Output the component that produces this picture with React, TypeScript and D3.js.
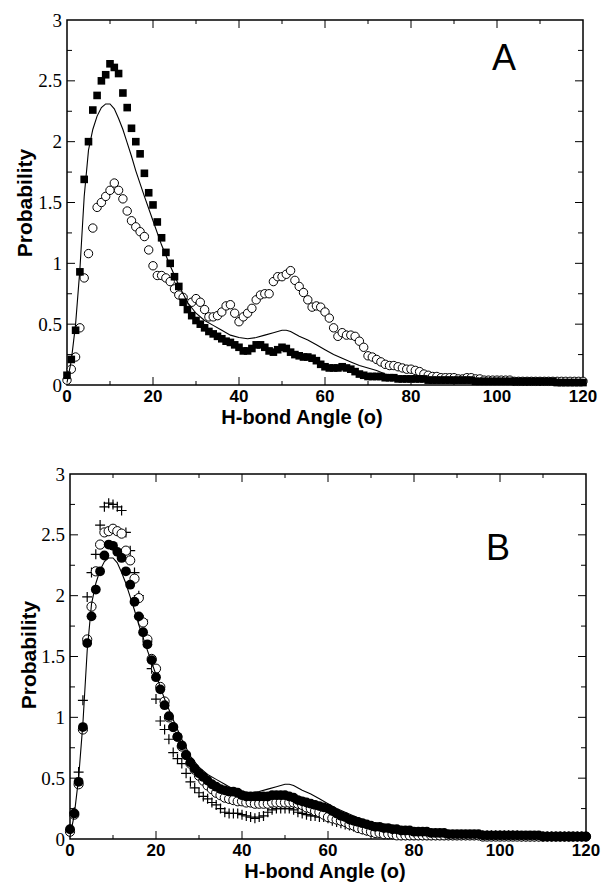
import React from "react";
import * as d3 from "d3";

// H-bond angle bins, 1 degree wide
const angles = d3.range(0, 121);

// Panel A
const squaresA = [
  0.08, 0.21, 0.45, 0.93, 1.69, 2.0, 2.26, 2.38, 2.5, 2.55,
  2.64, 2.61, 2.56, 2.4, 2.28, 2.11, 2.0, 1.9, 1.74, 1.58,
  1.48, 1.34, 1.21, 1.09, 1.0, 0.89, 0.81, 0.68, 0.62, 0.57,
  0.53, 0.5, 0.47, 0.44, 0.42, 0.4, 0.38, 0.36, 0.35, 0.33,
  0.31, 0.28, 0.28, 0.3, 0.33, 0.33, 0.31, 0.28, 0.27, 0.29,
  0.31, 0.3, 0.27, 0.25, 0.24, 0.23, 0.23, 0.22, 0.2, 0.17,
  0.15, 0.14, 0.14, 0.14, 0.15, 0.14, 0.13, 0.11, 0.09, 0.08,
  0.07, 0.07, 0.07, 0.07, 0.06, 0.06, 0.06, 0.05, 0.05, 0.05,
  0.05, 0.05, 0.05, 0.05, 0.04, 0.04, 0.04, 0.04, 0.04, 0.04,
  0.04, 0.04, 0.04, 0.04, 0.04, 0.03, 0.03, 0.03, 0.03, 0.03,
  0.03, 0.03, 0.03, 0.03, 0.03, 0.03, 0.03, 0.03, 0.03, 0.03,
  0.03, 0.03, 0.03, 0.03, 0.02, 0.02, 0.02, 0.02, 0.02, 0.02, 0.02,
];

const circlesA = [
  0.04, 0.13, 0.23, 0.47, 0.88, 1.08, 1.29, 1.46, 1.5, 1.55,
  1.6, 1.66, 1.6, 1.53, 1.43, 1.35, 1.3, 1.26, 1.22, 1.11,
  0.98, 0.9, 0.9, 0.88, 0.85, 0.79, 0.74, 0.72, 0.67, 0.68,
  0.71, 0.68, 0.62, 0.56, 0.56, 0.57, 0.6, 0.65, 0.66, 0.59,
  0.52, 0.56, 0.59, 0.63, 0.7, 0.74, 0.75, 0.75, 0.85, 0.89,
  0.89, 0.91, 0.94, 0.86, 0.81, 0.76, 0.7, 0.64, 0.65, 0.64,
  0.6, 0.55, 0.47, 0.4, 0.43, 0.41, 0.41, 0.4, 0.36, 0.31,
  0.24, 0.23, 0.21, 0.19, 0.17, 0.16, 0.16, 0.15, 0.14, 0.13,
  0.13, 0.12, 0.11, 0.09, 0.08, 0.07, 0.07, 0.06, 0.06, 0.06,
  0.06, 0.05, 0.05, 0.06, 0.06, 0.05, 0.05, 0.04, 0.04, 0.04,
  0.04, 0.04, 0.04, 0.04, 0.03, 0.03, 0.03, 0.03, 0.03, 0.03,
  0.03, 0.03, 0.03, 0.03, 0.03, 0.03, 0.03, 0.03, 0.03, 0.03, 0.03,
];

// model curve (same in both panels)
const modelAngles = [
  0, 1, 2, 3, 4, 5, 6, 7, 8, 9, 10, 11, 12, 13, 14, 15, 16,
  18, 20, 22, 24, 26, 28, 30, 32, 34, 36, 38, 40, 42, 44, 46, 48, 50,
  51, 52, 54, 56, 58, 60, 62, 64, 66, 68, 70, 72, 74, 76, 78, 80,
  85, 90, 100, 110, 120,
];
const modelProb = [
  0.02, 0.2, 0.5, 0.95, 1.55, 1.93, 2.1, 2.21, 2.28, 2.31, 2.31, 2.27, 2.19, 2.1, 1.99, 1.88, 1.76,
  1.55, 1.35, 1.15, 0.98, 0.82, 0.68, 0.59, 0.53, 0.49, 0.45, 0.41, 0.39, 0.38, 0.39, 0.41, 0.43, 0.45,
  0.45, 0.44, 0.4, 0.37, 0.33, 0.29, 0.25, 0.22, 0.19, 0.16, 0.14, 0.12, 0.09, 0.07, 0.06, 0.05,
  0.04, 0.03, 0.03, 0.02, 0.02,
];

// Panel B
const filledB = [
  0.08, 0.21, 0.47, 0.92, 1.61, 1.83, 2.05, 2.2, 2.33, 2.42,
  2.41, 2.36, 2.31, 2.2, 2.09, 1.95, 1.83, 1.7, 1.6, 1.47,
  1.33, 1.23, 1.1, 1.01, 0.92, 0.84, 0.77, 0.69, 0.63, 0.58,
  0.54, 0.51, 0.48, 0.45, 0.43, 0.41, 0.4, 0.39, 0.39, 0.38,
  0.36, 0.35, 0.35, 0.35, 0.35, 0.35, 0.35, 0.36, 0.36, 0.36,
  0.36, 0.35, 0.34, 0.32, 0.31, 0.3, 0.29, 0.28, 0.27, 0.26,
  0.25, 0.23, 0.21, 0.19, 0.18, 0.16, 0.15, 0.14, 0.13, 0.12,
  0.11, 0.1, 0.1, 0.09, 0.09, 0.08, 0.08, 0.07, 0.07, 0.07,
  0.06, 0.06, 0.06, 0.06, 0.05, 0.05, 0.05, 0.05, 0.04, 0.04,
  0.04, 0.04, 0.04, 0.04, 0.04, 0.04, 0.03, 0.03, 0.03, 0.03,
  0.03, 0.03, 0.03, 0.03, 0.03, 0.03, 0.03, 0.03, 0.03, 0.03,
  0.02, 0.02, 0.02, 0.02, 0.02, 0.02, 0.02, 0.02, 0.02, 0.02, 0.02,
];

const openB = [
  0.06, 0.2, 0.45, 0.9, 1.64, 1.91, 2.2, 2.42, 2.52, 2.53,
  2.55, 2.53, 2.51, 2.37, 2.29, 2.14, 1.98, 1.78, 1.64, 1.48,
  1.4, 1.25, 1.13, 1.0, 0.92, 0.84, 0.76, 0.69, 0.62, 0.57,
  0.52, 0.48, 0.44, 0.41, 0.38, 0.36, 0.34, 0.33, 0.32, 0.31,
  0.31, 0.3, 0.3, 0.29, 0.29, 0.29, 0.29, 0.3, 0.3, 0.3,
  0.3, 0.3, 0.3, 0.29, 0.28, 0.26, 0.25, 0.23, 0.22, 0.2,
  0.18, 0.17, 0.16, 0.15, 0.14, 0.12, 0.11, 0.09, 0.08, 0.07,
  0.06, 0.05, 0.05, 0.04, 0.04, 0.04, 0.03, 0.03, 0.03, 0.03,
  0.03, 0.03, 0.03, 0.03, 0.03, 0.03, 0.03, 0.03, 0.03, 0.03,
  0.03, 0.03, 0.03, 0.03, 0.03, 0.03, 0.02, 0.02, 0.02, 0.02,
  0.02, 0.02, 0.02, 0.02, 0.02, 0.02, 0.02, 0.02, 0.02, 0.02,
  0.02, 0.02, 0.02, 0.02, 0.02, 0.02, 0.02, 0.02, 0.02, 0.02, 0.02,
];

const plusB = [
  0.08, 0.22, 0.55, 1.14, 1.99, 2.19, 2.34, 2.58, 2.73, 2.76,
  2.75, 2.73, 2.7, 2.52, 2.37, 2.19, 2.0, 1.8, 1.62, 1.4,
  1.15, 0.97, 0.9, 0.82, 0.71, 0.66, 0.62, 0.54, 0.47, 0.42,
  0.38, 0.35, 0.33, 0.3, 0.28, 0.25, 0.22, 0.21, 0.21, 0.21,
  0.2, 0.19, 0.18, 0.17, 0.18, 0.19, 0.22, 0.24, 0.25, 0.25,
  0.25, 0.25, 0.24, 0.22, 0.21, 0.2, 0.19, 0.19, 0.18, 0.18,
  0.17, 0.15, 0.14, 0.13, 0.12, 0.11, 0.1, 0.09, 0.08, 0.07,
  0.06, 0.05, 0.05, 0.04, 0.04, 0.04, 0.04, 0.03, 0.03, 0.03,
  0.03, 0.03, 0.03, 0.03, 0.03, 0.03, 0.03, 0.03, 0.03, 0.03,
  0.03, 0.03, 0.03, 0.03, 0.03, 0.03, 0.03, 0.03, 0.03, 0.03,
  0.03, 0.03, 0.03, 0.03, 0.03, 0.02, 0.02, 0.02, 0.02, 0.02,
  0.02, 0.02, 0.02, 0.02, 0.02, 0.02, 0.02, 0.02, 0.02, 0.02, 0.02,
];

const xTicks = [0, 20, 40, 60, 80, 100, 120];
const yTicks = [0, 0.5, 1, 1.5, 2, 2.5, 3];
const yTickLabels = ["0", "0.5", "1", "1.5", "2", "2.5", "3"];

const sans = "'Liberation Sans', Arial, sans-serif";
const serif = "'Liberation Serif', 'Times New Roman', serif";

type Box = { left: number; right: number; top: number; bottom: number };
type Scale = d3.ScaleLinear<number, number>;

function Panel(props: {
  box: Box;
  tag: string;
  tagAt: [number, number];
  xTitleX: number;
  yTitleAt: [number, number];
  draw: (x: Scale, y: Scale) => React.ReactNode;
}) {
  const { box, tag, tagAt, xTitleX, yTitleAt, draw } = props;
  const x = d3.scaleLinear().domain([0, 120]).range([box.left, box.right]);
  const y = d3.scaleLinear().domain([0, 3]).range([box.bottom, box.top]);

  const xMinor = d3.range(10, 120, 10);
  const yMinor = d3.range(1, 12).map((i) => i * 0.25);

  return (
    <g>
      <rect
        x={box.left}
        y={box.top}
        width={box.right - box.left}
        height={box.bottom - box.top}
        fill="none"
        stroke="#000"
        strokeWidth={1.5}
      />
      {xMinor.map((v) => {
        const len = v % 20 === 0 ? 8 : 4;
        return (
          <g key={"xt" + v} stroke="#000" strokeWidth={1}>
            <line x1={x(v)} x2={x(v)} y1={box.bottom} y2={box.bottom - len} />
            <line x1={x(v)} x2={x(v)} y1={box.top} y2={box.top + len} />
          </g>
        );
      })}
      {yMinor.map((v, i) => {
        const len = i % 2 === 1 ? 8 : 5;
        return (
          <g key={"yt" + i} stroke="#000" strokeWidth={1}>
            <line x1={box.left} x2={box.left + len} y1={y(v)} y2={y(v)} />
            <line x1={box.right} x2={box.right - len} y1={y(v)} y2={y(v)} />
          </g>
        );
      })}

      {draw(x, y)}

      {xTicks.map((v) => (
        <text
          key={"xl" + v}
          x={x(v)}
          y={box.bottom + 17}
          textAnchor="middle"
          fontFamily={sans}
          fontWeight="bold"
          fontSize={17}
        >
          {v}
        </text>
      ))}
      {yTicks.map((v, i) => (
        <text
          key={"yl" + v}
          x={box.left - 5}
          y={y(v)}
          dy="0.35em"
          textAnchor="end"
          fontFamily={serif}
          fontSize={19}
        >
          {yTickLabels[i]}
        </text>
      ))}
      <text
        x={xTitleX}
        y={box.bottom + 39}
        textAnchor="middle"
        fontFamily={sans}
        fontWeight="bold"
        fontSize={20}
      >
        H-bond Angle (o)
      </text>
      <text
        transform={`translate(${yTitleAt[0]},${yTitleAt[1]}) rotate(-90)`}
        textAnchor="middle"
        fontFamily={sans}
        fontWeight="bold"
        fontSize={21}
      >
        Probability
      </text>
      <text x={tagAt[0]} y={tagAt[1]} textAnchor="middle" fontFamily={sans} fontSize={36}>
        {tag}
      </text>
    </g>
  );
}

export default function App() {
  const boxA: Box = { left: 67, right: 583, top: 20, bottom: 385 };
  const boxB: Box = { left: 70, right: 586, top: 474, bottom: 839 };

  const modelPts = modelAngles.map((a, i) => [a, modelProb[i]] as [number, number]);

  return (
    <svg
      width={604}
      height={891}
      style={{ position: "absolute", left: 0, top: 0, background: "#fff" }}
    >
      <Panel
        box={boxA}
        tag="A"
        tagAt={[504, 70]}
        xTitleX={302}
        yTitleAt={[32, 203]}
        draw={(x, y) => {
          const line = d3.line<[number, number]>().x((d) => x(d[0])).y((d) => y(d[1]));
          return (
            <g>
              {angles.map((a, i) => (
                <circle
                  key={"ca" + a}
                  cx={x(a)}
                  cy={y(circlesA[i])}
                  r={4.2}
                  fill="#fff"
                  stroke="#000"
                  strokeWidth={1}
                />
              ))}
              {angles.map((a, i) => (
                <rect
                  key={"sa" + a}
                  x={x(a) - 3.8}
                  y={y(squaresA[i]) - 3.8}
                  width={7.6}
                  height={7.6}
                  fill="#000"
                />
              ))}
              <path d={line(modelPts) || ""} fill="none" stroke="#000" strokeWidth={1.1} />
            </g>
          );
        }}
      />
      <Panel
        box={boxB}
        tag="B"
        tagAt={[498, 560]}
        xTitleX={325}
        yTitleAt={[36, 655]}
        draw={(x, y) => {
          const line = d3.line<[number, number]>().x((d) => x(d[0])).y((d) => y(d[1]));
          return (
            <g>
              {angles.map((a, i) => (
                <path
                  key={"pb" + a}
                  d={`M${x(a) - 5},${y(plusB[i])}h10M${x(a)},${y(plusB[i]) - 5}v10`}
                  stroke="#000"
                  strokeWidth={1.2}
                  fill="none"
                />
              ))}
              {angles.map((a, i) => (
                <circle
                  key={"ob" + a}
                  cx={x(a)}
                  cy={y(openB[i])}
                  r={4.6}
                  fill="#fff"
                  stroke="#000"
                  strokeWidth={1}
                />
              ))}
              {angles.map((a, i) => (
                <circle key={"fb" + a} cx={x(a)} cy={y(filledB[i])} r={4.9} fill="#000" />
              ))}
              <path d={line(modelPts) || ""} fill="none" stroke="#000" strokeWidth={1.1} />
            </g>
          );
        }}
      />
    </svg>
  );
}
